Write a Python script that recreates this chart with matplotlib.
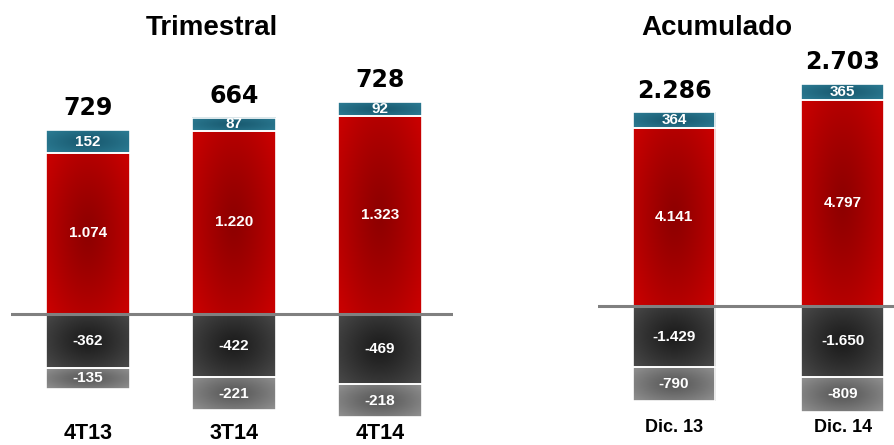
import numpy as np
import matplotlib
matplotlib.use("Agg")
import matplotlib.pyplot as plt
from matplotlib.transforms import blended_transform_factory

# data
trim_cats = ["4T13", "3T14", "4T14"]
trim_teal = [152, 87, 92]
trim_red = [1074, 1220, 1323]
trim_dark = [-362, -422, -469]
trim_light = [-135, -221, -218]

acum_cats = ["Dic. 13", "Dic. 14"]
acum_teal = [364, 365]
acum_red = [4141, 4797]
acum_dark = [-1429, -1650]
acum_light = [-790, -809]

def fmt(v):
    s = f"{abs(v):,}".replace(",", ".")
    return "-" + s if v < 0 else s

def grad_fill(ax, patch, c_mid, c_edge):
    bb = patch.get_bbox()
    yy, xx = np.mgrid[-1:1:120j, -1:1:120j]
    r = np.clip(np.sqrt(xx**2 + (yy * 0.9)**2) / 1.25, 0, 1) ** 1.2
    a = np.array(matplotlib.colors.to_rgb(c_mid))
    b = np.array(matplotlib.colors.to_rgb(c_edge))
    img = a[None, None, :] * (1 - r[..., None]) + b[None, None, :] * r[..., None]
    ax.imshow(img, extent=[bb.x0, bb.x1, bb.y0, bb.y1], aspect="auto",
              zorder=2, clip_path=patch, interpolation="bilinear")

styles = {
    "teal": ("#195a70", "#2c7b93"),
    "red": ("#8e0000", "#c80000"),
    "dark": ("#1c1c1c", "#474747"),
    "light": ("#585858", "#8e8e8e"),
}

def draw_panel(ax, cats, teal, red, dark, light, width, ylim, tot_fs):
    x = np.arange(len(cats))
    teal = np.array(teal); red = np.array(red)
    dark = np.array(dark); light = np.array(light)
    layers = [("red", red, 0), ("teal", teal, red),
              ("dark", dark, 0), ("light", light, dark)]
    for name, vals, bottom in layers:
        bars = ax.bar(x, vals, width, bottom=bottom, color="none",
                      edgecolor="white", linewidth=1.2, zorder=3)
        for p, v in zip(bars, vals):
            grad_fill(ax, p, *styles[name])
            cy = p.get_y() + p.get_height() / 2
            ax.text(p.get_x() + p.get_width() / 2, cy, fmt(v), color="white",
                    ha="center", va="center", fontsize=11, fontweight="bold",
                    family="Liberation Sans", zorder=6)
    totals = teal + red + dark + light
    for xi, t, top in zip(x, totals, teal + red):
        ax.annotate(fmt(t), (xi, top), xytext=(0, 7), textcoords="offset points",
                    ha="center", va="bottom", fontsize=tot_fs, fontweight="bold",
                    family="DejaVu Sans", zorder=6)
    ax.axhline(0, color="#808080", linewidth=2.2, zorder=5)
    ax.set_ylim(*ylim)
    ax.axis("off")
    return x

fig = plt.figure(figsize=(8.95, 4.45), dpi=100)

ax1 = fig.add_axes([11 / 895, 0, 442 / 895, 1])
x1 = draw_panel(ax1, trim_cats, trim_teal, trim_red, trim_dark, trim_light,
                0.575, (-131 / 0.15, 314 / 0.15), 17)
ax1.set_xlim(-0.527, 2.5)
tr1 = blended_transform_factory(ax1.transData, ax1.transAxes)
for xi, c in zip(x1, trim_cats):
    ax1.text(xi, 6 / 445, c, transform=tr1, ha="center", va="baseline",
             fontsize=15.5, fontweight="bold", family="Liberation Sans")

ax2 = fig.add_axes([598 / 895, 0, 297 / 895, 1])
x2 = draw_panel(ax2, acum_cats, acum_teal, acum_red, acum_dark, acum_light,
                0.49, (-139 / 0.043, 306 / 0.043), 17)
ax2.set_xlim(-0.451, 1.311)
tr2 = blended_transform_factory(ax2.transData, ax2.transAxes)
for xi, c in zip(x2, acum_cats):
    ax2.text(xi, 13 / 445, c, transform=tr2, ha="center", va="baseline",
             fontsize=13, fontweight="bold", family="Liberation Sans")

fig.text(212 / 895, 1 - 28 / 445, "Trimestral", ha="center", va="center",
         fontsize=20, fontweight="bold", family="Liberation Sans")
fig.text(717 / 895, 1 - 28 / 445, "Acumulado", ha="center", va="center",
         fontsize=20, fontweight="bold", family="Liberation Sans")

fig.savefig("out.png", dpi=100)
